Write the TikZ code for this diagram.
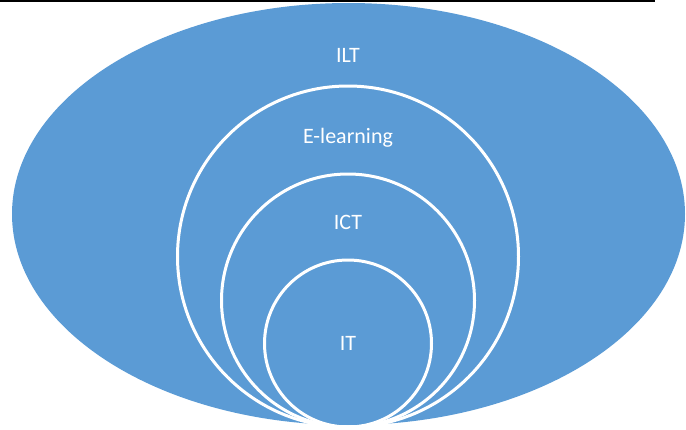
\documentclass[tikz,border=0pt]{standalone}
\usepackage{fontspec}
\setmainfont{Carlito}
\usepackage{tikz}
\definecolor{officeblue}{HTML}{5B9BD5}
\begin{document}
\begin{tikzpicture}[x=1pt,y=-1pt]
        % Nested circles, all touching the bottom of the ellipse.
        \useasboundingbox (0,0) rectangle (686,429);

        \coordinate (O) at (348.5,214);
        \coordinate (E) at (348,256.5);
        \coordinate (C) at (348,300.5);
        \coordinate (T) at (348,343.5);

        \draw[line width=1.2pt] (0,1) -- (655,1);
        \fill[officeblue] (O) ellipse [x radius=336.5pt, y radius=211pt];
        \draw[white, line width=3pt] (E) circle (170.5pt);
        \draw[white, line width=3pt] (C) circle (126.5pt);
        \draw[white, line width=3pt] (T) circle (83.5pt);

        \tikzset{label/.style={text=white, font=\fontsize{22}{26}\selectfont}}
        \node[label] (ilt) at (348,55) {ILT};
        \node[label] (elearning) at (348,138) {E-learning};
        \node[label] (ict) at (348,222) {ICT};
        \node[label] (it) at (348,343) {IT};

    \end{tikzpicture}
\end{document}
